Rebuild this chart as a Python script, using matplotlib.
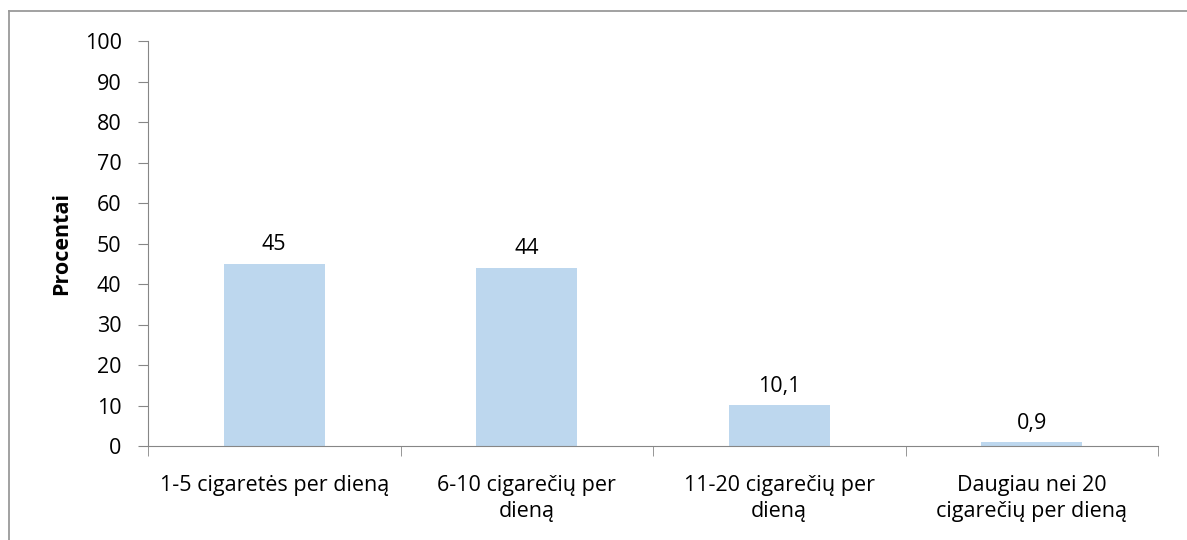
import matplotlib.pyplot as plt
from matplotlib.lines import Line2D
import numpy as np

categories = ["1-5 cigaretės per dieną", "6-10 cigarečių per\ndieną",
              "11-20 cigarečių per\ndieną", "Daugiau nei 20\ncigarečių per dieną"]
values = [45, 44, 10.1, 0.9]
labels = ["45", "44", "10,1", "0,9"]
yticks = list(range(0, 101, 10))

plt.rcParams['font.family'] = ['Open Sans', 'DejaVu Sans']
axis_grey = '#868686'
fs = 15.5

fig = plt.figure(figsize=(11.87, 5.4), dpi=100)
W, H = 1187, 540
ax = fig.add_axes([148 / W, 1 - 446 / H, (1158 - 148) / W, (446 - 41) / H])

x = np.arange(len(categories))
ax.bar(x, values, width=0.4, color='#BDD7EE', zorder=2)
for xi, v, lab in zip(x, values, labels):
    ax.annotate(lab, (xi, v), xytext=(0, 6), textcoords='offset points',
                ha='center', va='bottom', fontsize=fs)

ax.set_xlim(-0.5, len(categories) - 0.5)
ax.set_ylim(0, 100)
ax.set_yticks(yticks)
ax.set_yticklabels([str(t) for t in yticks], fontsize=fs)
ax.set_xticks(x)
ax.set_xticklabels(categories, fontsize=fs, linespacing=1.3)
ax.tick_params(axis='x', length=0, pad=21)
ax.set_xticks(np.arange(-0.5, len(categories), 1), minor=True)
ax.tick_params(axis='x', which='minor', length=7, color=axis_grey)
ax.tick_params(axis='y', length=7, color=axis_grey, pad=12)

for side in ['top', 'right']:
    ax.spines[side].set_visible(False)
for side in ['left', 'bottom']:
    ax.spines[side].set_color(axis_grey)

ax.set_ylabel('Procentai', fontsize=fs, fontweight='bold', labelpad=9)

# chart area frame (only top and left edges are within the canvas)
fig.add_artist(Line2D([9.5 / W, 1.0], [1 - 10.5 / H, 1 - 10.5 / H],
                      color='#9a9a9a', lw=1.3, transform=fig.transFigure))
fig.add_artist(Line2D([9.5 / W, 9.5 / W], [0, 1 - 10.5 / H],
                      color='#9a9a9a', lw=1.3, transform=fig.transFigure))

fig.savefig('out.png', dpi=100)
